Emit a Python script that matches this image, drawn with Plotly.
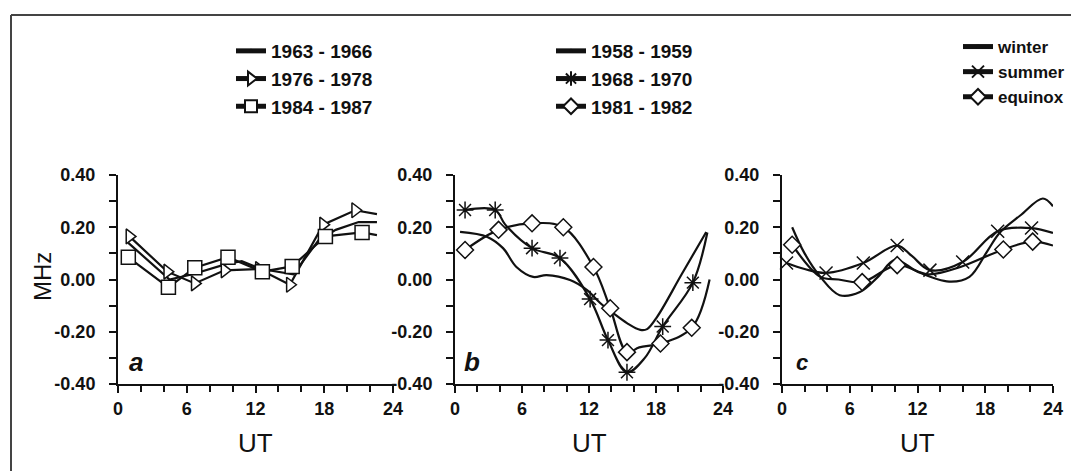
import plotly.graph_objects as go

# ---------------- data ----------------
# Panel a (linear segments)
a1_name = "1963 - 1966"
a1_x = [0.9, 4.5, 6.5, 9.5, 10.8, 12.5, 15.3, 17.5, 19.0, 21.0, 22.6]
a1_y = [0.14, 0.00, 0.02, 0.06, 0.07, 0.04, 0.02, 0.15, 0.19, 0.22, 0.22]
a1_m = [0] * 11

a2_name = "1976 - 1978"
a2_x = [1.0, 4.3, 6.7, 9.3, 12.3, 15.0, 17.9, 20.7, 22.6]
a2_y = [0.165, 0.03, -0.015, 0.035, 0.04, -0.02, 0.21, 0.265, 0.25]
a2_m = [1, 1, 1, 1, 1, 1, 1, 1, 0]

a3_name = "1984 - 1987"
a3_x = [0.9, 4.4, 6.7, 9.6, 12.6, 15.2, 18.1, 21.3, 22.6]
a3_y = [0.085, -0.03, 0.045, 0.085, 0.03, 0.05, 0.165, 0.18, 0.17]
a3_m = [1, 1, 1, 1, 1, 1, 1, 1, 0]

# Panel b (smooth)
b1_name = "1958 - 1959"
b1_x = [0.45, 2.9, 4.3, 5.5, 7.0, 8.2, 10.3, 11.8, 13.0, 14.2, 15.4, 16.6, 17.2, 18.1, 20.3, 22.5]
b1_y = [0.182, 0.163, 0.12, 0.048, 0.01, 0.017, -0.002, -0.04, -0.09, -0.13, -0.167, -0.193, -0.19, -0.143, 0.02, 0.182]
b1_m = [0] * 16

b2_name = "1968 - 1970"
b2_x = [0.9, 3.6, 4.5, 6.9, 9.4, 12.1, 13.7, 15.4, 17.0, 18.6, 21.3, 22.6]
b2_y = [0.266, 0.266, 0.21, 0.12, 0.082, -0.075, -0.232, -0.355, -0.30, -0.18, -0.012, 0.18]
b2_m = [1, 1, 0, 1, 1, 1, 1, 1, 0, 1, 1, 0]

b3_name = "1981 - 1982"
b3_x = [0.9, 3.9, 6.9, 9.7, 12.4, 13.9, 15.4, 16.5, 18.4, 21.2, 22.8]
b3_y = [0.113, 0.19, 0.215, 0.20, 0.048, -0.11, -0.278, -0.26, -0.245, -0.185, 0.0]
b3_m = [1, 1, 1, 1, 1, 1, 1, 0, 1, 1, 0]

# Panel c (smooth)
c1_name = "winter"
c1_x = [0.9, 2.0, 3.4, 5.1, 6.9, 8.5, 10.0, 12.0, 14.8, 16.6, 18.2, 19.3, 21.1, 23.1, 24.0]
c1_y = [0.20, 0.10, 0.01, -0.06, -0.048, 0.01, 0.075, 0.03, -0.008, 0.01, 0.11, 0.18, 0.245, 0.31, 0.28]
c1_m = [0] * 15

c2_name = "summer"
c2_x = [0.4, 2.0, 3.9, 7.2, 10.2, 11.5, 13.1, 16.0, 19.1, 22.1, 24.0]
c2_y = [0.063, 0.04, 0.025, 0.063, 0.13, 0.09, 0.036, 0.067, 0.185, 0.197, 0.178]
c2_m = [1, 0, 1, 1, 1, 0, 1, 1, 1, 1, 0]

c3_name = "equinox"
c3_x = [0.9, 3.4, 5.0, 7.1, 10.2, 13.0, 15.8, 19.6, 22.2, 24.0]
c3_y = [0.133, 0.01, 0.0, -0.01, 0.055, 0.02, 0.048, 0.115, 0.145, 0.13]
c3_m = [1, 0, 0, 1, 1, 0, 0, 1, 1, 0]

x_ticks = [0, 6, 12, 18, 24]
y_ticks = [-0.40, -0.20, 0.00, 0.20, 0.40]
y_ticktext = ["-0.40", "-0.20", "0.00", "0.20", "0.40"]
panel_letters = ["a", "b", "c"]

# ---------------- figure ----------------
W, H = 1079, 471
OX, OY = 8, 8  # page offset of the plot div
INK = "#111111"
FONT = "Liberation Sans, Arial, sans-serif"


def px(x):
    return (x - OX) / W


def py(y):
    return 1 - (y - OY) / H


fig = go.Figure()


def add(xs, ys, flags, name, ax, legend, symbol, size, shape, fill):
    fig.add_trace(go.Scatter(
        x=xs, y=ys, name=name, mode="lines+markers",
        xaxis="x" + ax, yaxis="y" + ax, legend=legend,
        line=dict(color=INK, width=2.2, shape=shape, smoothing=1.0),
        marker=dict(symbol=symbol, size=[size if f else 0 for f in flags],
                    color=fill, opacity=1, line=dict(color=INK, width=1.5)),
        cliponaxis=False,
    ))


add(a1_x, a1_y, a1_m, a1_name, "", "legend", "circle", 0, "linear", "white")
add(a2_x, a2_y, a2_m, a2_name, "", "legend", "triangle-right", 13, "linear", "white")
add(a3_x, a3_y, a3_m, a3_name, "", "legend", "square", 14, "linear", "white")
add(b1_x, b1_y, b1_m, b1_name, "2", "legend2", "circle", 0, "spline", "white")
add(b2_x, b2_y, b2_m, b2_name, "2", "legend2", "asterisk-open", 14, "spline", INK)
add(b3_x, b3_y, b3_m, b3_name, "2", "legend2", "diamond", 13, "spline", "white")
add(c1_x, c1_y, c1_m, c1_name, "3", "legend3", "circle", 0, "spline", "white")
add(c2_x, c2_y, c2_m, c2_name, "3", "legend3", "x-thin-open", 13, "spline", INK)
add(c3_x, c3_y, c3_m, c3_name, "3", "legend3", "diamond", 13, "spline", "white")

ydom = [py(384), py(175)]
xdoms = [[px(118), px(393)], [px(455), px(723)], [px(782), px(1053)]]

tickfont = dict(family=FONT, size=18, color=INK, weight="bold")


def xaxis(dom):
    return dict(domain=dom, range=[0, 24], tickvals=x_ticks, ticks="outside",
                ticklen=7, tickwidth=2, tickcolor=INK, showline=True,
                linecolor=INK, linewidth=2, showgrid=False, zeroline=False,
                tickfont=tickfont, fixedrange=True, automargin=False,
                minor=dict(dtick=2, tick0=0, ticks="outside", ticklen=6,
                           tickwidth=2, tickcolor=INK, showgrid=False))


def yaxis(anchor):
    return dict(domain=ydom, range=[-0.40, 0.40], tickvals=y_ticks,
                ticktext=y_ticktext, ticks="outside", ticklen=7, tickwidth=2,
                tickcolor=INK, showline=True, linecolor=INK, linewidth=2,
                showgrid=False, zeroline=False, tickfont=tickfont,
                anchor=anchor, fixedrange=True, ticklabelstandoff=10,
                automargin=False,
                minor=dict(dtick=0.1, tick0=0, ticks="outside", ticklen=7,
                           tickwidth=2, tickcolor=INK, showgrid=False))


def legend(xl, yt, size):
    return dict(font=dict(family=FONT, size=size, color=INK, weight="bold"),
                bgcolor="rgba(0,0,0,0)", borderwidth=0, xanchor="left",
                yanchor="top", itemsizing="constant", tracegroupgap=0,
                x=px(xl), y=py(yt))


fig.update_layout(
    width=W, height=H, margin=dict(l=0, r=0, t=0, b=0, autoexpand=False),
    paper_bgcolor="white", plot_bgcolor="white", showlegend=True,
    xaxis=dict(xaxis(xdoms[0]), anchor="y"),
    yaxis=yaxis("x"),
    xaxis2=dict(xaxis(xdoms[1]), anchor="y2"),
    yaxis2=yaxis("x2"),
    xaxis3=dict(xaxis(xdoms[2]), anchor="y3"),
    yaxis3=yaxis("x3"),
    legend=legend(231, 32, 19),
    legend2=legend(551, 32, 19),
    legend3=legend(958, 29, 17),
)

ann = []
for dom in xdoms:
    ann.append(dict(x=(dom[0] + dom[1]) / 2, y=py(443), xref="paper", yref="paper",
                    xanchor="center", yanchor="middle",
                    text="UT", showarrow=False,
                    font=dict(family=FONT, size=26, color=INK)))
ann.append(dict(x=px(42), y=py(277), xref="paper", yref="paper", text="MHz",
                xanchor="center", yanchor="middle",
                textangle=-90, showarrow=False,
                font=dict(family=FONT, size=24, color=INK)))
for (lx, size), letter in zip([(136, 26), (472, 26), (802, 22)], panel_letters):
    ann.append(dict(x=px(lx), y=py(362), xref="paper", yref="paper", text=letter,
                    xanchor="center", yanchor="middle", showarrow=False,
                    font=dict(family=FONT, size=size, color=INK, weight="bold",
                              style="italic")))
fig.update_layout(annotations=ann)

fig.update_layout(shapes=[
    dict(type="line", xref="paper", yref="paper", x0=px(11), x1=1.0,
         y0=py(15), y1=py(15), line=dict(color="#444444", width=2)),
    dict(type="line", xref="paper", yref="paper", x0=px(11), x1=px(11),
         y0=py(15), y1=0.0, line=dict(color="#444444", width=2)),
])

fig.write_html("out.html")
